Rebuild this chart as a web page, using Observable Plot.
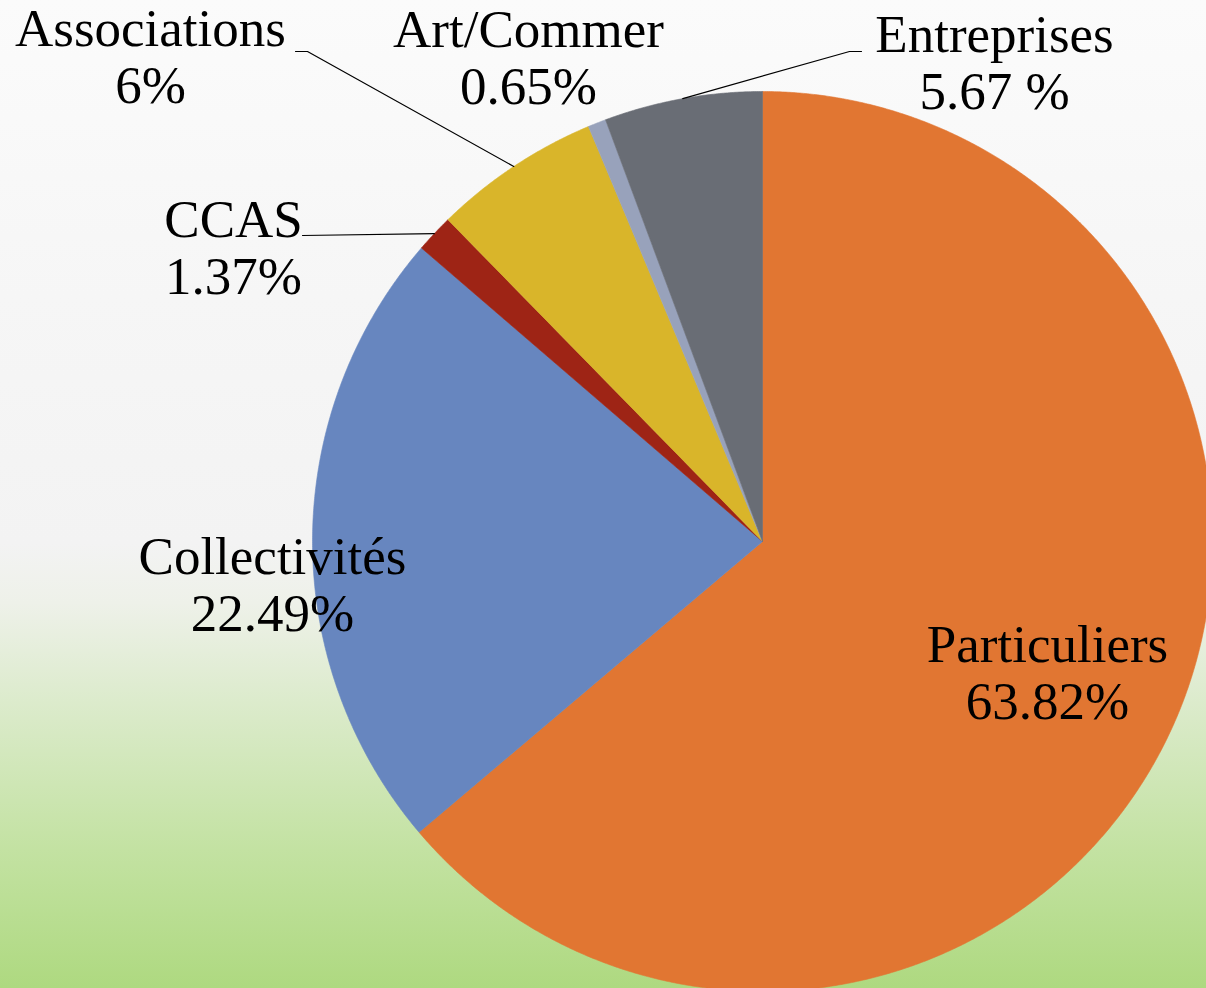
<!DOCTYPE html>
<html><head><meta charset="utf-8">
<script src="https://cdn.jsdelivr.net/npm/d3@7"></script>
<script src="https://cdn.jsdelivr.net/npm/@observablehq/plot@0.6"></script>
<style>html,body{margin:0;padding:0;background:#fff;overflow:hidden}</style>
</head><body><div id="chart"></div>
<script>
// ---- data ----
const categories = ["Particuliers", "Collectivités", "CCAS", "Associations", "Art/Commer", "Entreprises"];
const values = [63.82, 22.49, 1.37, 6, 0.65, 5.67];
const valueLabels = ["63.82%", "22.49%", "1.37%", "6%", "0.65%", "5.67 %"];
const colors = ["#E17632", "#6786BF", "#9E2415", "#D9B52A", "#98A2BB", "#696D75"];

// ---- layout (pixels) ----
const W = 1206, H = 988, CX = 762, CY = 541, R = 450;
const FONT = "Liberation Serif", FS = 53, LINE = 57;
// label anchor: [center x, baseline of second line]
const labelLayout = {
  "Particuliers": [1047, 718],
  "Collectivités": [272, 630],
  "CCAS": [233, 293],
  "Associations": [150, 102],
  "Art/Commer": [528, 103],
  "Entreprises": [994, 108]
};
// leader lines: fixed start points near labels, end on the slice mid-arc
const leaderLayout = {
  "Associations": [[295, 51], [307, 51]],
  "CCAS": [[302, 235]],
  "Entreprises": [[861, 51], [849, 51]]
};

const ux = (px) => px - CX, uy = (py) => py - CY;
const total = d3.sum(values);
let acc = 0;
const slices = categories.map((c, i) => {
  const a0 = acc / total * 2 * Math.PI; acc += values[i];
  const a1 = acc / total * 2 * Math.PI;
  return {c, i, a0, a1, mid: (a0 + a1) / 2};
});
const pt = (a, r) => ({x: r * Math.sin(a), y: -r * Math.cos(a)});

const polys = slices.map(s => {
  const n = Math.max(2, Math.ceil((s.a1 - s.a0) / (Math.PI / 720)));
  const pts = [{x: 0, y: 0}];
  for (let k = 0; k <= n; k++) pts.push(pt(s.a0 + (s.a1 - s.a0) * k / n, R));
  pts.push({x: 0, y: 0});
  return pts.map(p => ({...p, c: s.c}));
});

const leaders = slices.filter(s => leaderLayout[s.c]).flatMap(s => {
  const pts = leaderLayout[s.c].map(([x, y]) => ({x: ux(x), y: uy(y)}));
  pts.push(pt(s.mid, R));
  return pts.map(p => ({...p, c: s.c}));
});

const labels = categories.map((c, i) => ({
  x: ux(labelLayout[c][0]), y: uy(labelLayout[c][1]),
  text: c + "\n" + valueLabels[i]
}));

const chart = Plot.plot({
  width: W, height: H, margin: 0,
  style: {background: "linear-gradient(to bottom, #fbfbfb 0%, #f6f6f6 30%, #f3f3f3 55%, #eef1e9 61%, #dcebcc 71%, #c3e2a2 86%, #aed980 100%)", overflow: "hidden"},
  x: {domain: [-CX, W - CX], range: [0, W], axis: null},
  y: {domain: [-CY, H - CY], range: [0, H], axis: null},
  marks: [
    ...polys.map((p, i) => Plot.line(p, {x: "x", y: "y", fill: colors[i], stroke: colors[i], strokeWidth: 0.6})),
    Plot.line(leaders, {x: "x", y: "y", z: "c", stroke: "#000", strokeWidth: 1.2}),
    Plot.text(labels, {x: "x", y: "y", text: "text", fontFamily: FONT, fontSize: FS, lineHeight: LINE / FS,
      lineAnchor: "bottom", textAnchor: "middle", fill: "#000"})
  ]
});
document.getElementById("chart").appendChild(chart);
</script>
</body></html>
